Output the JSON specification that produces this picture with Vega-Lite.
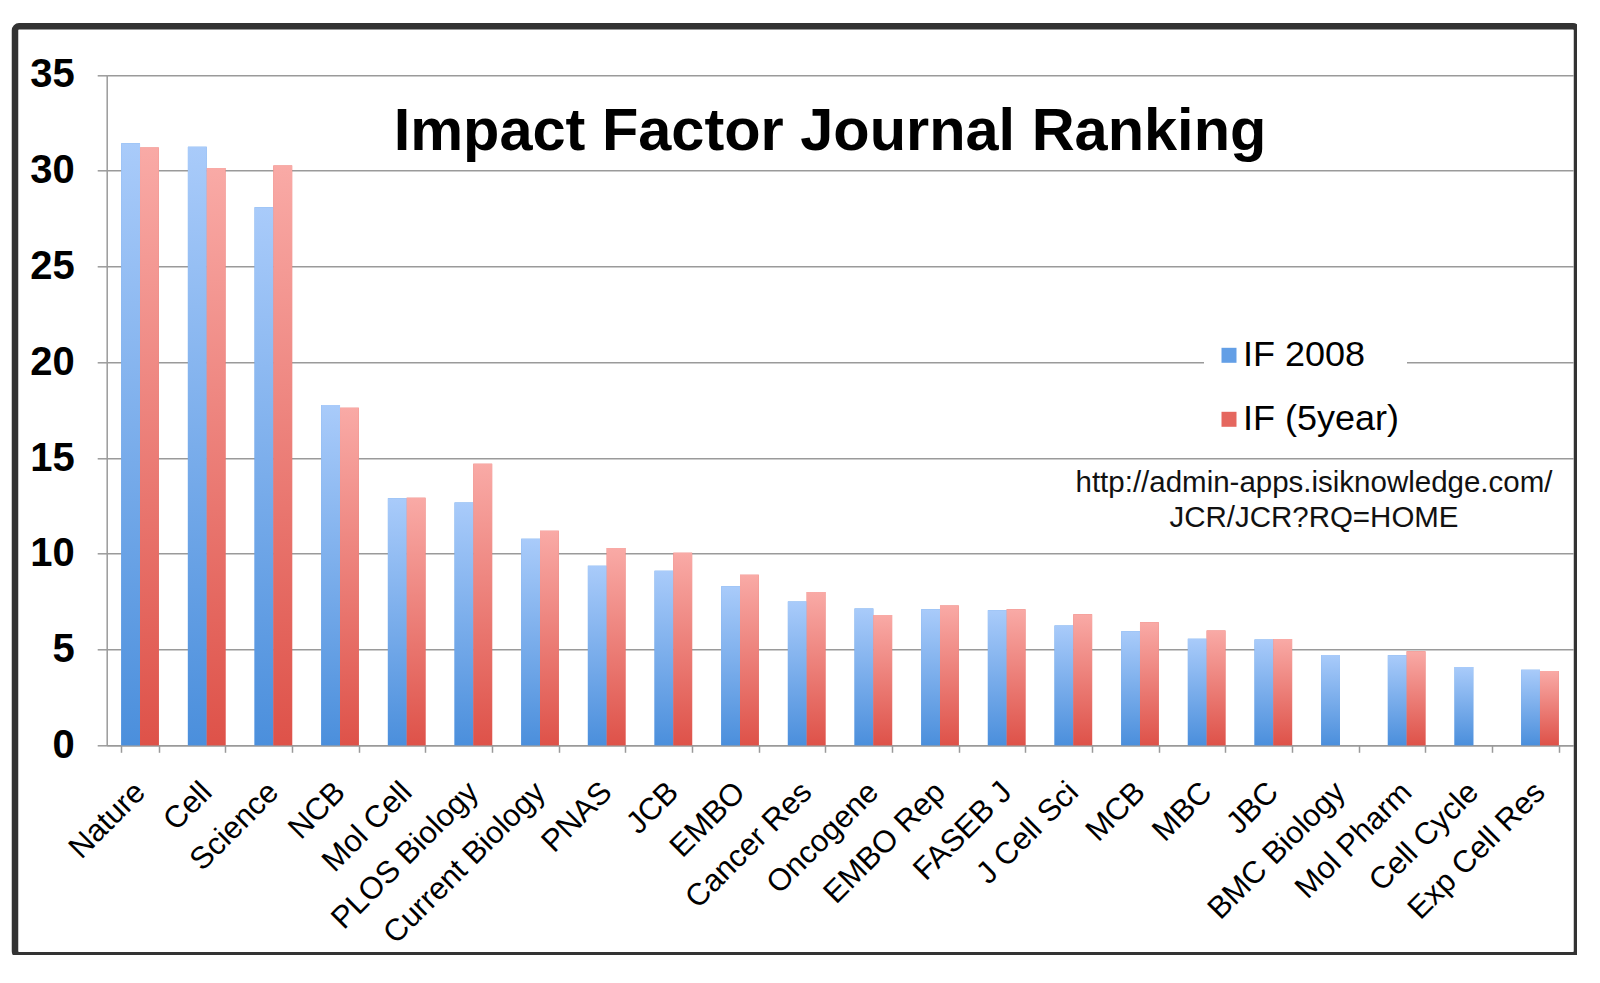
{
  "$schema": "https://vega.github.io/schema/vega-lite/v6.json",
  "autosize": {"type": "none"},
  "padding": {"left": 15, "top": 26.3, "right": 0, "bottom": 0},
  "width": 1562,
  "height": 929,
  "background": "white",
  "config": {
    "view": {"stroke": "#333333", "strokeWidth": 6.5, "cornerRadius": 4, "fill": "white"},
    "font": "Liberation Sans"
  },
  "title": {
    "text": "Impact Factor Journal Ranking",
    "font": "Liberation Sans",
    "fontSize": 59.5,
    "fontWeight": "bold",
    "color": "#000000",
    "anchor": "middle",
    "frame": "group",
    "baseline": "alphabetic",
    "offset": -183,
    "dx": 34
  },
  "data": {
    "values": [
      {"journal": "Nature", "series": "IF 2008", "value": 31.43},
      {"journal": "Nature", "series": "IF (5year)", "value": 31.21},
      {"journal": "Cell", "series": "IF 2008", "value": 31.25},
      {"journal": "Cell", "series": "IF (5year)", "value": 30.15},
      {"journal": "Science", "series": "IF 2008", "value": 28.1},
      {"journal": "Science", "series": "IF (5year)", "value": 30.27},
      {"journal": "NCB", "series": "IF 2008", "value": 17.77},
      {"journal": "NCB", "series": "IF (5year)", "value": 17.63},
      {"journal": "Mol Cell", "series": "IF 2008", "value": 12.9},
      {"journal": "Mol Cell", "series": "IF (5year)", "value": 12.93},
      {"journal": "PLOS Biology", "series": "IF 2008", "value": 12.68},
      {"journal": "PLOS Biology", "series": "IF (5year)", "value": 14.7},
      {"journal": "Current Biology", "series": "IF 2008", "value": 10.78},
      {"journal": "Current Biology", "series": "IF (5year)", "value": 11.2},
      {"journal": "PNAS", "series": "IF 2008", "value": 9.38},
      {"journal": "PNAS", "series": "IF (5year)", "value": 10.3},
      {"journal": "JCB", "series": "IF 2008", "value": 9.12},
      {"journal": "JCB", "series": "IF (5year)", "value": 10.05},
      {"journal": "EMBO", "series": "IF 2008", "value": 8.3},
      {"journal": "EMBO", "series": "IF (5year)", "value": 8.9},
      {"journal": "Cancer Res", "series": "IF 2008", "value": 7.51},
      {"journal": "Cancer Res", "series": "IF (5year)", "value": 8.0},
      {"journal": "Oncogene", "series": "IF 2008", "value": 7.14},
      {"journal": "Oncogene", "series": "IF (5year)", "value": 6.8},
      {"journal": "EMBO Rep", "series": "IF 2008", "value": 7.1},
      {"journal": "EMBO Rep", "series": "IF (5year)", "value": 7.3},
      {"journal": "FASEB J", "series": "IF 2008", "value": 7.05},
      {"journal": "FASEB J", "series": "IF (5year)", "value": 7.1},
      {"journal": "J Cell Sci", "series": "IF 2008", "value": 6.25},
      {"journal": "J Cell Sci", "series": "IF (5year)", "value": 6.84},
      {"journal": "MCB", "series": "IF 2008", "value": 5.95},
      {"journal": "MCB", "series": "IF (5year)", "value": 6.42},
      {"journal": "MBC", "series": "IF 2008", "value": 5.56},
      {"journal": "MBC", "series": "IF (5year)", "value": 6.0},
      {"journal": "JBC", "series": "IF 2008", "value": 5.52},
      {"journal": "JBC", "series": "IF (5year)", "value": 5.55},
      {"journal": "BMC Biology", "series": "IF 2008", "value": 4.72},
      {"journal": "Mol Pharm", "series": "IF 2008", "value": 4.7},
      {"journal": "Mol Pharm", "series": "IF (5year)", "value": 4.91},
      {"journal": "Cell Cycle", "series": "IF 2008", "value": 4.09},
      {"journal": "Exp Cell Res", "series": "IF 2008", "value": 3.95},
      {"journal": "Exp Cell Res", "series": "IF (5year)", "value": 3.88}
    ]
  },
  "encoding": {
    "x": {
      "field": "journal",
      "type": "nominal",
      "sort": null,
      "scale": {"range": [91.7, 1558.3], "paddingInner": 0.436, "paddingOuter": 0.218},
      "axis": {
        "title": null,
        "orient": "bottom",
        "offset": -210,
        "tickBand": "extent",
        "tickSize": 7,
        "tickColor": "#9a9a9a",
        "tickWidth": 1.5,
        "domainColor": "#9a9a9a",
        "domainWidth": 1.5,
        "labelAngle": -45,
        "labelAlign": "right",
        "labelBaseline": "middle",
        "labelFont": "Liberation Sans",
        "labelFontSize": 31,
        "labelColor": "#000000",
        "labelPadding": 35,
        "labelOverlap": false,
        "labelLimit": 0,
        "grid": false
      }
    },
    "y": {
      "field": "value",
      "type": "quantitative",
      "scale": {"domain": [0, 35], "nice": false, "range": [719, 48.7]},
      "axis": {
        "title": null,
        "orient": "left",
        "offset": -91.7,
        "values": [0, 5, 10, 15, 20, 25, 30, 35],
        "grid": true,
        "gridColor": "#9a9a9a",
        "gridWidth": 1.5,
        "tickSize": 9.5,
        "tickColor": "#9a9a9a",
        "tickWidth": 1.5,
        "domainColor": "#9a9a9a",
        "domainWidth": 1.5,
        "labelFont": "Liberation Sans",
        "labelFontSize": 40,
        "labelFontWeight": "bold",
        "labelColor": "#000000",
        "labelPadding": 23
      }
    }
  },
  "layer": [
    {
      "mark": {"type": "bar"},
      "encoding": {
        "xOffset": {
          "field": "series",
          "type": "nominal",
          "scale": {"domain": ["IF 2008", "IF (5year)"], "paddingInner": 0, "paddingOuter": 0}
        },
        "color": {
          "field": "series",
          "type": "nominal",
          "scale": {"domain": ["IF 2008", "IF (5year)"], "range": ["#639fe6", "#e5675f"]},
          "legend": {
            "title": null,
            "orient": "none",
            "legendX": 1189,
            "legendY": 304,
            "fillColor": "white",
            "padding": 7,
            "symbolType": "square",
            "symbolSize": 225,
            "symbolStrokeWidth": 0,
            "labelFont": "Liberation Sans",
            "labelFontSize": 36,
            "labelColor": "#000000",
            "labelOffset": -4,
            "rowPadding": 28,
            "labelLimit": 0
          }
        }
      }
    },
    {
      "mark": {"type": "bar"},
      "encoding": {
        "xOffset": {
          "field": "series",
          "type": "nominal",
          "scale": {"domain": ["IF 2008", "IF (5year)"], "paddingInner": 0, "paddingOuter": 0}
        },
        "color": {
          "condition": {
            "test": "datum.series === 'IF 2008'",
            "value": {
              "gradient": "linear", "x1": 0, "y1": 0, "x2": 0, "y2": 1,
              "stops": [{"offset": 0, "color": "#a9cbfa"}, {"offset": 1, "color": "#4b8fdc"}]
            }
          },
          "value": {
            "gradient": "linear", "x1": 0, "y1": 0, "x2": 0, "y2": 1,
            "stops": [{"offset": 0, "color": "#f9aaa6"}, {"offset": 1, "color": "#de5249"}]
          }
        }
      }
    },
    {
      "transform": [{"filter": "datum.journal === 'BMC Biology'"}],
      "mark": {
        "type": "text",
        "font": "Liberation Sans",
        "fontSize": 29.5,
        "color": "#111111",
        "align": "center",
        "baseline": "alphabetic",
        "lineHeight": 35,
        "dx": -26
      },
      "encoding": {
        "x": {"field": "journal", "type": "nominal", "sort": null},
        "y": {"datum": 13.24, "type": "quantitative"},
        "text": {"value": ["http://admin-apps.isiknowledge.com/", "JCR/JCR?RQ=HOME"]}
      }
    }
  ]
}
